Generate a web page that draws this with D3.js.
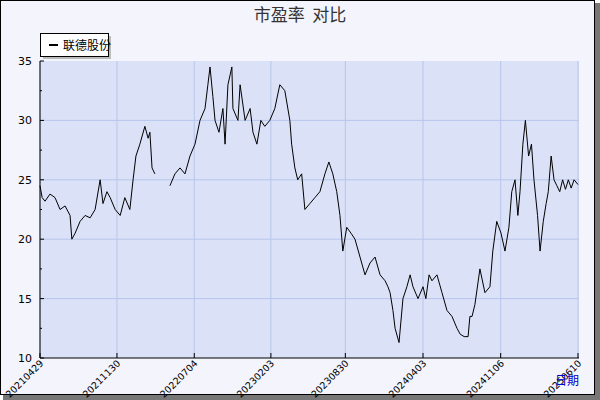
<!DOCTYPE html><html><head><meta charset="utf-8"><script src="https://cdn.jsdelivr.net/npm/d3@7"></script>
<style>body{margin:0;background:#fff}svg{display:block}text{white-space:pre}</style></head><body><svg id="c" width="600" height="400"></svg>
<script>
const title="市盈率  对比";
const seriesName="联德股份";
const startDate="2021-04-29";
const tickLabels=["20210429","20211130","20220704","20230203","20230830","20240403","20241106","20250610"];
const yTicks=[10,15,20,25,30,35];
const dayOffsets=[0,6,14,28,42,56,70,84,89,98,112,126,140,154,168,176,187,196,210,224,237,251,260,268,279,293,302,307,313,321,340,363,377,391,405,419,433,447,461,469,475,483,489,500,511,517,525,536,539,553,559,573,587,595,606,617,628,642,656,670,684,698,703,712,720,731,740,754,768,782,796,807,818,829,838,846,857,869,880,894,908,922,936,950,964,972,978,986,992,1003,1014,1025,1034,1042,1056,1070,1078,1087,1095,1109,1123,1137,1151,1165,1174,1185,1196,1201,1207,1215,1229,1243,1257,1265,1276,1288,1299,1310,1318,1327,1335,1341,1349,1356,1365,1373,1380,1390,1397,1406,1414,1420,1428,1436,1444,1452,1460,1468,1476,1484,1492,1503];
const peValues=[24.5,23.5,23.2,23.8,23.5,22.5,22.8,22,20,20.5,21.5,22,21.8,22.5,25,23,24,23.5,22.5,22,23.5,22.5,25,27,28,29.5,28.5,29,26,25.5,null,24.5,25.5,26,25.5,27,28,30,31,33,34.5,32,30,29,31,28,33,34.5,31,30,33,30,31,29,28,30,29.5,30,31,33,32.5,30,28,26,25,25.5,22.5,23,23.5,24,25.5,26.5,25.5,24,22,19,21,20.5,20,18.5,17,18,18.5,17,16.5,16,15.5,14,12.5,11.3,15,16,17,16,15,16,15,17,16.5,17,15.5,14,13.5,12.5,12,11.8,11.8,13.5,13.5,14.5,17.5,15.5,16,19,21.5,20.5,19,21,24,25,22,24,28,30,27,28,25,22,19,21.5,23,24,27,25,24.5,24,25,24.2,25,24.3,25,24.6,25.1,24.4,25];
const svg=d3.select("#c");
const m={l:40,r:579,t:61,b:358};
svg.append("rect").attr("x",3).attr("y",3).attr("width",597).attr("height",397).attr("fill","#777");
svg.append("rect").attr("x",0.5).attr("y",0.5).attr("width",594).attr("height",394).attr("fill","#f3f4fc").attr("stroke","#000");
const t0=d3.timeParse("%Y-%m-%d")(startDate);
const pd=d3.timeParse("%Y%m%d");
const data=dayOffsets.map((d,i)=>({d:d3.timeDay.offset(t0,d),v:peValues[i]}));
const x=d3.scaleTime().domain([pd(tickLabels[0]),pd(tickLabels[7])]).range([m.l,578]);
const y=d3.scaleLinear().domain([10,35]).range([m.b,m.t]);
svg.append("rect").attr("x",m.l).attr("y",m.t).attr("width",m.r-m.l).attr("height",m.b-m.t).attr("fill","#dbe1f7");
const g=svg.append("g");
tickLabels.forEach(s=>{const X=x(pd(s));
 g.append("line").attr("x1",X).attr("x2",X).attr("y1",m.t).attr("y2",m.b).attr("stroke","#b7c6ec");
 g.append("line").attr("x1",X).attr("x2",X).attr("y1",m.b).attr("y2",m.b-5).attr("stroke","#000");
 svg.append("text").attr("transform",`translate(${X+4},${m.b+6}) rotate(-45)`).attr("text-anchor","end").attr("font-size",9.5).attr("font-family","DejaVu Sans").text(s);});
yTicks.forEach(v=>{const Y=y(v);
 if(v>10&&v<35)g.append("line").attr("x1",m.l).attr("x2",m.r).attr("y1",Y).attr("y2",Y).attr("stroke","#b7c6ec");
 g.append("line").attr("x1",m.l).attr("x2",m.l+4).attr("y1",Y).attr("y2",Y).attr("stroke","#000");
 svg.append("text").attr("x",m.l-8).attr("y",Y+4).attr("text-anchor","end").attr("font-size",11).attr("font-family","DejaVu Sans").text(v);});
d3.range(10,35,2.5).forEach(v=>{if(v%5)g.append("line").attr("x1",m.l).attr("x2",m.l+2).attr("y1",y(v)).attr("y2",y(v)).attr("stroke","#000");});
svg.append("line").attr("x1",m.l).attr("x2",m.l).attr("y1",m.t).attr("y2",m.b).attr("stroke","#000");
svg.append("line").attr("x1",m.l).attr("x2",m.r).attr("y1",m.b).attr("y2",m.b).attr("stroke","#000");
svg.append("path").datum(data).attr("fill","none").attr("stroke","#000").attr("stroke-width",1)
 .attr("d",d3.line().defined(d=>d.v!=null).x(d=>x(d.d)).y(d=>y(d.v)));
svg.append("text").attr("x",300).attr("y",21).attr("text-anchor","middle").attr("font-size",17).attr("font-family","Noto Sans CJK SC").attr("fill","#333").text(title);
svg.append("rect").attr("x",43).attr("y",36).attr("width",68).attr("height",23).attr("fill","#bbb");
svg.append("rect").attr("x",40.5).attr("y",33.5).attr("width",68).attr("height",23).attr("fill","#fff").attr("stroke","#000");
svg.append("line").attr("x1",49).attr("x2",58).attr("y1",45).attr("y2",45).attr("stroke","#000").attr("stroke-width",2);
svg.append("text").attr("x",63).attr("y",50).attr("font-size",12).attr("font-family","Noto Sans CJK SC").text(seriesName);
svg.append("text").attr("x",579).attr("y",385).attr("text-anchor","end").attr("font-size",12).attr("font-family","Noto Sans CJK SC").attr("fill","#00c").text("日期");
</script></body></html>
